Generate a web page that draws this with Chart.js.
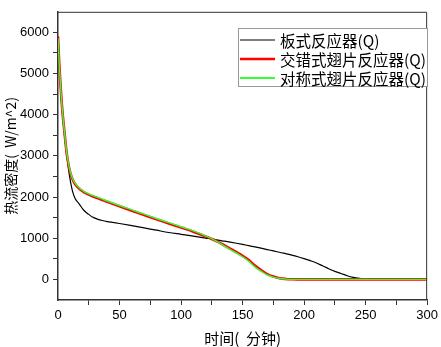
<!DOCTYPE html>
<html><head><meta charset="utf-8">
<script src="https://cdn.jsdelivr.net/npm/chart.js@4/dist/chart.umd.min.js"></script>
<style>html,body{margin:0;padding:0;background:#fff}#wrap{width:441px;height:347px}</style>
</head><body><div id="wrap"><canvas id="c" width="441" height="347"></canvas></div>
<script>
const time = [0,1,2,3,4,5,6,7,8,9,10,12,14,16,18,20,22,25,28,32,36,40,45,50,60,70,80,90,100,110,120,125,130,135,140,145,150,155,160,165,170,175,180,185,190,195,200,205,210,215,220,225,230,235,240,245,250,255,260,270,280,290,300];
const plateQ = [5900,5250,4700,4250,3900,3580,3300,3050,2800,2580,2400,2120,1960,1880,1800,1715,1650,1580,1515,1465,1430,1405,1382,1358,1305,1250,1195,1140,1096,1052,1005,983,955,930,905,878,850,820,790,758,725,692,660,625,590,550,505,455,400,330,260,195,145,90,50,25,8,0,0,0,0,0,0];
const staggeredQ = [5900,5250,4750,4300,3950,3650,3350,3080,2880,2720,2590,2420,2310,2240,2185,2140,2100,2060,2020,1975,1930,1885,1830,1775,1670,1565,1460,1360,1260,1160,1045,983,910,830,745,660,575,470,335,225,130,70,30,12,4,0,0,0,0,0,0,0,0,0,0,0,0,0,0,0,0,0,0];
const symmetricQ = [5850,5230,4740,4300,3950,3650,3360,3100,2900,2740,2610,2440,2330,2260,2205,2160,2120,2080,2040,1995,1950,1905,1850,1795,1690,1585,1480,1380,1280,1180,1060,990,905,815,725,640,550,440,305,200,110,55,22,8,2,0,0,0,0,0,0,0,0,0,0,0,0,0,0,0,0,0,0];
const seriesNames = ['板式反应器(Q)','交错式翅片反应器(Q)','对称式翅片反应器(Q)'];
const xTickLabels = [0,50,100,150,200,250,300];
const yTickLabels = [0,1000,2000,3000,4000,5000,6000];

const pts = v => time.map((t,i)=>({x:t,y:v[i]}));
const colors = ['#000000','#ff0000','#33ff33'];
const widths = [1.2,2.6,1.4];
const legendWidths = [1.2,2.6,2];
const CJK = '"Noto Sans CJK SC","Noto Sans",sans-serif';
const LAT = '"Liberation Sans",Arial,sans-serif';

const frameLegend = {
  id:'frameLegend',
  afterDatasetsDraw(chart){
    const {ctx, chartArea:a} = chart;
    ctx.save();
    ctx.strokeStyle='#333'; ctx.lineWidth=1;
    ctx.beginPath();
    ctx.moveTo(a.left, a.top+0.5); ctx.lineTo(a.right-0.5, a.top+0.5); ctx.lineTo(a.right-0.5, a.bottom);
    ctx.stroke();
    const bx=238.5, by=28.5, bw=189, bh=58;
    ctx.strokeStyle='#999'; ctx.lineWidth=1;
    ctx.fillStyle='#fff';
    ctx.fillRect(bx,by,bw,bh);
    ctx.strokeRect(bx,by,bw,bh);
    chart.data.datasets.forEach((ds,i)=>{
      const y = 40 + i*19;
      ctx.strokeStyle=ds.borderColor; ctx.lineWidth=legendWidths[i];
      ctx.beginPath(); ctx.moveTo(240,y); ctx.lineTo(275,y); ctx.stroke();
      ctx.fillStyle='#000'; ctx.font='15.5px '+CJK; ctx.textBaseline='middle'; ctx.textAlign='left';
      ctx.fillText(ds.label, 280, y+1);
    });
    ctx.restore();
  }
};

new Chart(document.getElementById('c'), {
  type:'line',
  data:{datasets:[
    {label:seriesNames[0], data:pts(plateQ), borderColor:colors[0], borderWidth:widths[0], order:2},
    {label:seriesNames[1], data:pts(staggeredQ), borderColor:colors[1], borderWidth:widths[1], order:1},
    {label:seriesNames[2], data:pts(symmetricQ), borderColor:colors[2], borderWidth:widths[2], order:0}
  ]},
  options:{
    responsive:false, animation:false,
    devicePixelRatio:1,
    layout:{padding:{top:2,right:12,left:0,bottom:0}},
    elements:{point:{radius:0}, line:{cubicInterpolationMode:'monotone'}},
    plugins:{legend:{display:false}, tooltip:{enabled:false}},
    scales:{
      x:{type:'linear', min:0, max:300,
        afterFit(s){s.height=47;},
        grid:{drawOnChartArea:false, tickLength:5, color:'#333', tickColor:ctx=> (ctx.tick && (ctx.tick.value===0)) ? 'rgba(0,0,0,0)' : '#333'},
        border:{color:'#333', width:1.5},
        ticks:{stepSize:25, autoSkip:false, maxRotation:0, padding:3, color:'#000', font:{family:LAT,size:13},
          callback:v=> xTickLabels.includes(v) ? String(v) : ''},
        title:{display:true, text:'时间(  分钟)', color:'#000', font:{family:CJK,size:15}, padding:{top:0,bottom:0}}
      },
      y:{type:'linear', min:-500, max:6500,
        afterFit(s){s.width=58;},
        grid:{drawOnChartArea:false, tickLength:5, tickColor:ctx=> (ctx.tick && (ctx.tick.value===-500||ctx.tick.value===6500)) ? 'rgba(0,0,0,0)' : '#333'},
        border:{color:'#333', width:1.5},
        ticks:{stepSize:500, autoSkip:false, padding:4, color:'#000', font:{family:LAT,size:13},
          callback:v=> yTickLabels.includes(v) ? String(v) : ''},
        title:{display:true, text:'热流密度(  W/m^2)', color:'#000', font:{family:CJK,size:14}, padding:{top:2,bottom:0}}
      }
    }
  },
  plugins:[frameLegend]
});
</script></body></html>
